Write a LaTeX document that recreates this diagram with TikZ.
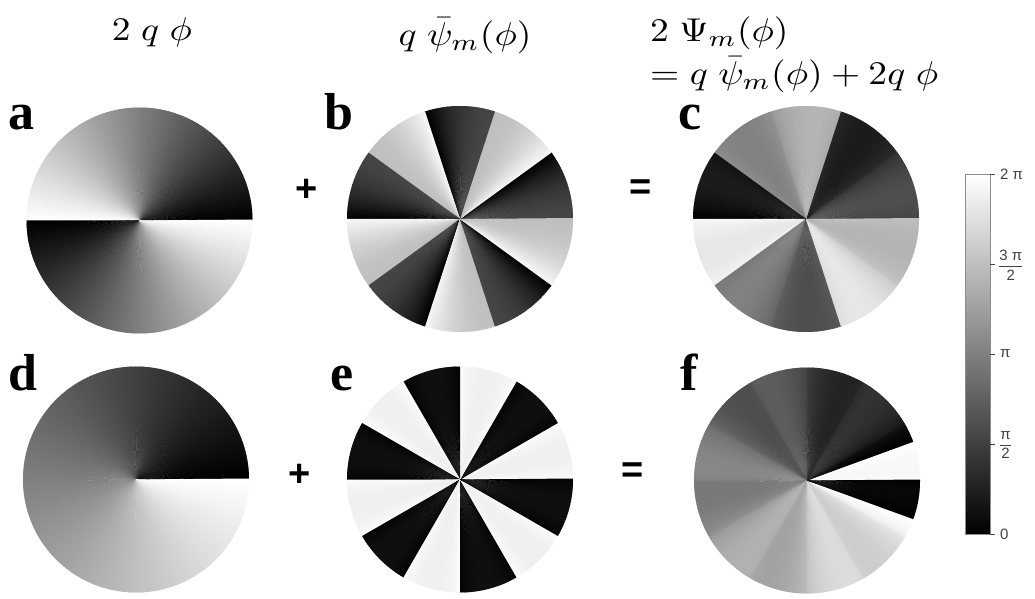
\documentclass[tikz,border=0pt]{standalone}
\usepackage{amsmath}
\usepackage{fontspec}
\newfontfamily\lblfont{Liberation Serif}
\newfontfamily\sansfnt{Liberation Sans}
\definecolor{cbgray}{HTML}{404040}
\newcommand\phwedge[2]{%
  \pgfmathsetmacro\pp{100*(1-#2)}%
  \fill[black!\pp] (#1) -- ++(\i:113) arc[start angle=\i, end angle=\i+1.5, radius=113] -- cycle;}
\newcommand\bigmath[1]{\scalebox{3.75}[3.3]{$#1$}}
\tikzset{
  panellbl/.style={font=\lblfont\fontsize{52}{56}\selectfont\bfseries, anchor=base west, inner sep=0},
  opsym/.style={font=\sansfnt\fontsize{38}{40}\selectfont\bfseries, inner sep=0},
  mathlbl/.style={inner sep=0},
  cblbl/.style={font=\sansfnt\fontsize{15}{17}\selectfont, text=cbgray, inner sep=0, anchor=west},
  cbtick/.style={draw=cbgray, line width=0.6pt}
}
\begin{document}
\begin{tikzpicture}[x=1pt,y=1pt]
\useasboundingbox (0,0) rectangle (1035,598);
\fill[white] (0,0) rectangle (1035,598);
% disk centres
\coordinate (A) at (139.5,377.5);
\coordinate (B) at (460,379);
\coordinate (C) at (806,379);
\coordinate (D) at (136,118.5);
\coordinate (E) at (460,118.5);
\coordinate (F) at (807,117.5);
\foreach \i in {0,...,359}{
  \pgfmathsetmacro\m{\i+0.5}
  \pgfmathsetmacro\ta{mod(\m,72)}
  \pgfmathsetmacro\vb{\ta<36 ? 0.27*(1-(\ta/36)^2) : 0.75+0.22*(1-(\ta-36)/36)^2}
  \pgfmathsetmacro\va{mod(\m,180)/180}
  \pgfmathsetmacro\vc{mod(\vb+\va,1)}
  \pgfmathsetmacro\vd{\m/360}
  \pgfmathsetmacro\tb{mod(\m,60)}
  \pgfmathsetmacro\gg{0.06*sqrt(abs(sin(6*\tb)))}
  \pgfmathsetmacro\ve{\tb<30 ? 1-\gg : \gg}
  \pgfmathsetmacro\vf{mod(\vd+\ve,1)}
  \phwedge{A}{\va}
  \phwedge{B}{\vb}
  \phwedge{C}{\vc}
  \phwedge{D}{\vd}
  \phwedge{E}{\ve}
  \phwedge{F}{\vf}
}
% panel letters
\node[panellbl] (la) at (8,468) {a};
\node[panellbl] (lb) at (324,468) {b};
\node[panellbl] (lc) at (678,468) {c};
\node[panellbl] (ld) at (8,208) {d};
\node[panellbl] (le) at (330,208) {e};
\node[panellbl] (lf) at (680,208) {f};
% operators
\node[opsym] (p1) at (307,408) {+};
\node[opsym] (p2) at (300,123) {+};
\node[opsym] (q1) at (641,408) {=};
\node[opsym] (q2) at (633,125) {=};
% column headers
\node[mathlbl] (h1) at (152,566) {\bigmath{2\;q\;\phi}};
\node[mathlbl] (h2) at (465,562) {\bigmath{q\;\bar{\psi}_m(\phi)}};
\node[mathlbl, anchor=west] (h3) at (650,565) {\bigmath{2\;\Psi_m(\phi)}};
\node[mathlbl, anchor=west] (h4) at (650,523) {\bigmath{=q\;\bar{\psi}_m(\phi)+2q\;\phi}};
% colour bar
\shade[bottom color=black, top color=white] (965,64) rectangle (990,424);
\draw[draw=cbgray!60, line width=0.5pt] (965,64) rectangle (990,424);
\foreach \yy/\nm in {64/t0,154/t1,244/t2,334/t3,424/t4}{
  \coordinate (\nm) at (990,\yy);
  \draw[cbtick] (\nm) -- ++(5,0);
}
\node[cblbl] (c4) at (1000,424) {2 π};
\node[cblbl] (c3) at (998,333) {$\dfrac{\text{3 π}}{\text{2}}$};
\node[cblbl] (c2) at (1000,244) {π};
\node[cblbl] (c1) at (999,153) {$\dfrac{\text{π}}{\text{2}}$};
\node[cblbl] (c0) at (1000,64) {0};
\end{tikzpicture}
\end{document}
